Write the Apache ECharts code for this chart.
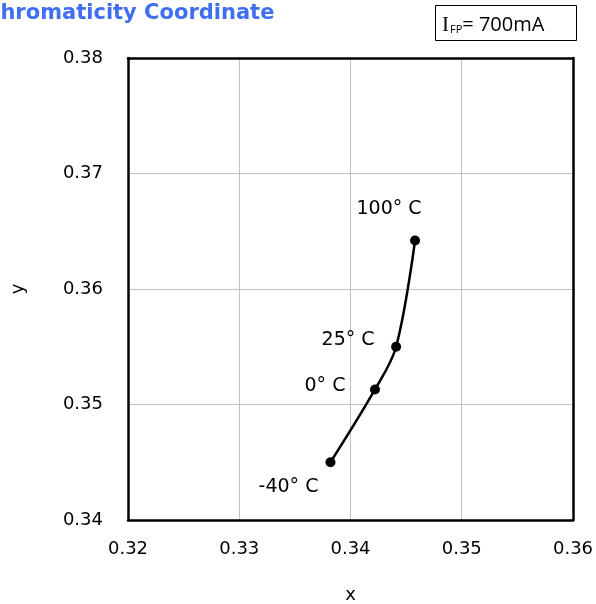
<!DOCTYPE html>
<html>
<head>
<meta charset="utf-8">
<script src="https://cdn.jsdelivr.net/npm/echarts@6/dist/echarts.min.js"></script>
<style>html,body{margin:0;padding:0;background:#fff;overflow:hidden}#c{width:596px;height:604px}</style>
</head>
<body>
<div id="c"></div>
<script>
const temps = ['-40° C', '0° C', '25° C', '100° C'];
const xValues = [0.3382, 0.3422, 0.3441, 0.3458];
const yValues = [0.3450, 0.3513, 0.3550, 0.3642];
const xTicks = [0.32, 0.33, 0.34, 0.35, 0.36];
const yTicks = [0.34, 0.35, 0.36, 0.37, 0.38];
const labelOffsets = [[-42, 25], [-50, -3], [-48, -7], [-26, -31]];

const FONT = '"DejaVu Sans", Verdana, sans-serif';
const chart = echarts.init(document.getElementById('c'), null, {renderer: 'canvas', width: 596, height: 604});
const data = xValues.map((x, i) => ({
  value: [x, yValues[i]],
  label: {show: true, formatter: temps[i], position: 'inside', offset: labelOffsets[i]}
}));
const frameAxis = {
  axisLine: {show: true, onZero: false, lineStyle: {color: '#000', width: 2.5}},
  axisTick: {show: false}, axisLabel: {show: false}, splitLine: {show: false}
};
chart.setOption({
  animation: false,
  backgroundColor: '#fff',
  grid: {left: 128, right: 23, top: 58, bottom: 84, show: false, containLabel: false, outerBoundsMode: 'none'},
  xAxis: [{
    type: 'value', min: xTicks[0], max: xTicks[xTicks.length - 1], interval: 0.01,
    name: 'x', nameLocation: 'middle', nameGap: 66,
    nameTextStyle: {fontFamily: FONT, fontSize: 18, color: '#000'},
    axisLine: {show: true, onZero: false, lineStyle: {color: '#000', width: 2.5}},
    axisTick: {show: false},
    axisLabel: {fontFamily: FONT, fontSize: 18, color: '#000', margin: 20, formatter: v => v.toFixed(2)},
    splitLine: {show: true, lineStyle: {color: '#c0c0c0', width: 1}}
  }, Object.assign({type: 'value', position: 'top', min: xTicks[0], max: xTicks[xTicks.length - 1], interval: 0.01}, frameAxis)],
  yAxis: [{
    type: 'value', min: yTicks[0], max: yTicks[yTicks.length - 1], interval: 0.01,
    name: 'y', nameLocation: 'middle', nameGap: 101,
    nameTextStyle: {fontFamily: FONT, fontSize: 18, color: '#000'},
    axisLine: {show: true, onZero: false, lineStyle: {color: '#000', width: 2.5}},
    axisTick: {show: false},
    axisLabel: {fontFamily: FONT, fontSize: 18, color: '#000', margin: 25, formatter: v => v.toFixed(2)},
    splitLine: {show: true, lineStyle: {color: '#c0c0c0', width: 1}}
  }, Object.assign({type: 'value', position: 'right', min: yTicks[0], max: yTicks[yTicks.length - 1], interval: 0.01}, frameAxis)],
  series: [{
    type: 'line', data: data, smooth: 0.35,
    symbol: 'circle', symbolSize: 10,
    itemStyle: {color: '#000'},
    lineStyle: {color: '#000', width: 2.5},
    label: {fontFamily: FONT, fontSize: 19, color: '#000', align: 'center', verticalAlign: 'middle'}
  }],
  graphic: [
    {type: 'text', left: -15, top: 3, style: {text: 'Chromaticity Coordinate', font: 'bold 21px "DejaVu Sans", Verdana, sans-serif', fill: '#3f6ef2'}},
    {type: 'rect', shape: {x: 435.5, y: 5.5, width: 141, height: 35}, style: {fill: '#fff', stroke: '#000', lineWidth: 1}},
    {type: 'text', x: 442, y: 25, style: {
      text: '{i|I}{s|FP}{t|= 700mA}', verticalAlign: 'middle',
      rich: {
        i: {fontFamily: '"Liberation Serif", serif', fontSize: 21, fill: '#000'},
        s: {fontFamily: '"Open Sans", sans-serif', fontSize: 11, fill: '#000', padding: [9, 0, 0, 1]},
        t: {fontFamily: '"Open Sans", sans-serif', fontSize: 20, fill: '#000'}
      }
    }}
  ]
});
</script>
</body>
</html>
